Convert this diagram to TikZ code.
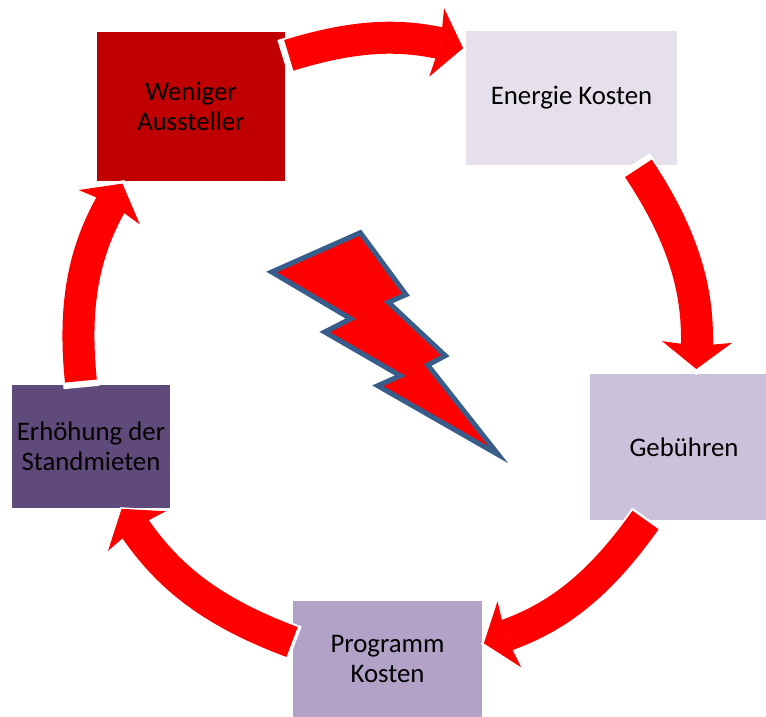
\documentclass[tikz,border=0pt]{standalone}
\usepackage{fontspec}
\setmainfont{Carlito}
\usetikzlibrary{arrows.meta}
\definecolor{wencol}{HTML}{C00000}
\definecolor{enecol}{HTML}{E6E0EC}
\definecolor{gebcol}{HTML}{CCC1DA}
\definecolor{procol}{HTML}{B2A2C7}
\definecolor{stacol}{HTML}{604A7B}
\definecolor{boltcol}{HTML}{385D8A}
\tikzset{
	box/.style={inner sep=0pt,outer sep=0pt,align=center,text=black,font=\fontsize{26.8}{30}\selectfont},
	ringarrow/.style={draw=red,line width=32pt,-{Stealth[length=27pt,width=70pt,inset=4pt,line width=0pt]},
		preaction={draw=white,line width=36pt,shorten <=-2.5pt,shorten >=-1pt,-{Stealth[length=30pt,width=76pt,inset=4pt,line width=0pt]}}},
	bolt/.style={draw=boltcol,fill=red,line width=5pt,miter limit=20}
}
\begin{document}
\begin{tikzpicture}[x=1pt,y=-1pt]
	\useasboundingbox (0,0) rectangle (766,717);
	\node[box,fill=wencol,minimum width=188pt,minimum height=149pt] (wen) at (191,106.5) {Weniger\\Aussteller};
	\node[box,fill=enecol,minimum width=211pt,minimum height=134pt] (ene) at (571.5,98) {Energie Kosten};
	\node[box,fill=gebcol,minimum width=176pt,minimum height=146pt] (geb) at (678,447) {\hspace*{12pt}Gebühren};
	\node[box,fill=procol,minimum width=189pt,minimum height=116pt] (pro) at (387.5,659) {Programm\\Kosten};
	\node[box,fill=stacol,minimum width=158pt,minimum height=123pt] (sta) at (91,446.5) {Erhöhung der\\Standmieten};
	\draw[ringarrow,shorten <=4pt,shorten >=3pt] (wen.28) to[bend left=14.7] (ene.155.5);
	\draw[ringarrow,shorten <=4pt,shorten >=5pt] (ene.314.8) to[bend left=17.5] (geb.76.1);
	\draw[ringarrow,shorten >=2pt] (geb.246) to[bend left=17.5] (pro.9.6);
	\draw[ringarrow,shorten <=1pt,shorten >=1pt] (pro.170.9) to[bend left=17.5] (sta.296.5);
	\draw[ringarrow,shorten <=4pt,shorten >=3pt] (sta.99.4) to[bend left=17.5] (wen.228.9);
	\draw[bolt] (271.7,272) -- (360.3,232.7) -- (406,294.7) -- (388.3,302.3) -- (445.3,355.7) -- (427.7,365)
		-- (498.3,454.7) -- (377.7,385.7) -- (400.3,375.7) -- (324.7,332) -- (350.7,318.7) -- cycle;
\end{tikzpicture}
\end{document}
